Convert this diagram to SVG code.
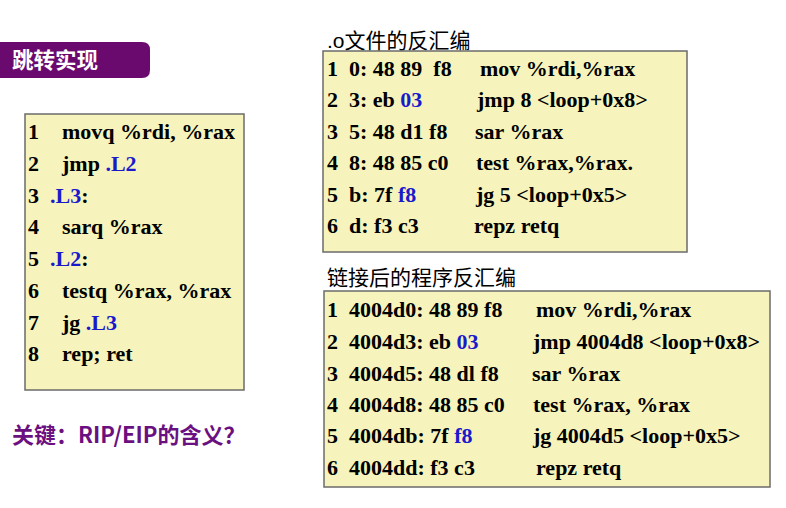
<svg xmlns="http://www.w3.org/2000/svg" width="786" height="508" viewBox="0 0 786 508">
<style>
.box{fill:#F6F4BC;stroke:#6b6b6b;stroke-width:1.5}
.c{font-family:"Liberation Serif","Times New Roman",serif;font-weight:bold;font-size:22px;fill:#000}
.b{fill:#1a1acc}
.h{font-family:"Liberation Sans","Noto Sans CJK SC",sans-serif;font-size:21px;fill:#000}
</style>
<rect width="786" height="508" fill="#fff"/>
<g id="title">
<path d="M0 42 H142 Q150 42 150 50 V70 Q150 78 142 78 H0 Z" fill="#6B0A6E"/>
<text x="12" y="68" font-family="'Noto Sans CJK SC',sans-serif" font-weight="bold" font-size="21.5" fill="#fff">跳转实现</text>
</g>
<g id="asm-source">
<rect class="box" x="25" y="114" width="219" height="276"/>
<text class="c" x="28" y="139">1</text><text class="c" x="62" y="139">movq %rdi, %rax</text>
<text class="c" x="28" y="171">2</text><text class="c" x="62" y="171">jmp <tspan class="b">.L2</tspan></text>
<text class="c" x="28" y="203">3</text><text class="c" x="50" y="203"><tspan class="b">.L3</tspan>:</text>
<text class="c" x="28" y="234">4</text><text class="c" x="62" y="234">sarq %rax</text>
<text class="c" x="28" y="266">5</text><text class="c" x="50" y="266"><tspan class="b">.L2</tspan>:</text>
<text class="c" x="28" y="298">6</text><text class="c" x="62" y="298">testq %rax, %rax</text>
<text class="c" x="28" y="330">7</text><text class="c" x="62" y="330">jg <tspan class="b">.L3</tspan></text>
<text class="c" x="28" y="361">8</text><text class="c" x="62" y="361">rep; ret</text>
</g>
<g id="question">
<text x="12" y="443" font-family="'Noto Sans CJK SC',sans-serif" font-weight="bold" font-size="22" fill="#6B1080">关键：RIP/EIP的含义？</text>
</g>
<g id="obj-disasm">
<text class="h" x="327" y="48">.o文件的反汇编</text>
<rect class="box" x="323" y="51" width="364" height="201"/>
<text class="c" x="327" y="76">1</text><text class="c" x="349" y="76" xml:space="preserve">0: 48 89  f8</text><text class="c" x="480" y="76">mov %rdi,%rax</text>
<text class="c" x="327" y="107">2</text><text class="c" x="349" y="107">3: eb <tspan class="b">03</tspan></text><text class="c" x="477" y="107">jmp 8 &lt;loop+0x8&gt;</text>
<text class="c" x="327" y="139">3</text><text class="c" x="349" y="139">5: 48 d1 f8</text><text class="c" x="475" y="139">sar %rax</text>
<text class="c" x="327" y="170">4</text><text class="c" x="349" y="170">8: 48 85 c0</text><text class="c" x="476" y="170">test %rax,%rax.</text>
<text class="c" x="327" y="202">5</text><text class="c" x="349" y="202">b: 7f <tspan class="b">f8</tspan></text><text class="c" x="476" y="202">jg 5 &lt;loop+0x5&gt;</text>
<text class="c" x="327" y="233">6</text><text class="c" x="349" y="233">d: f3 c3</text><text class="c" x="474" y="233">repz retq</text>
</g>
<g id="linked-disasm">
<text class="h" x="327" y="285">链接后的程序反汇编</text>
<rect class="box" x="324" y="291" width="446" height="196"/>
<text class="c" x="327" y="317">1</text><text class="c" x="349" y="317">4004d0: 48 89 f8</text><text class="c" x="536" y="317">mov %rdi,%rax</text>
<text class="c" x="327" y="349">2</text><text class="c" x="349" y="349">4004d3: eb <tspan class="b">03</tspan></text><text class="c" x="533" y="349">jmp 4004d8 &lt;loop+0x8&gt;</text>
<text class="c" x="327" y="381">3</text><text class="c" x="349" y="381">4004d5: 48 dl f8</text><text class="c" x="532" y="381">sar %rax</text>
<text class="c" x="327" y="412">4</text><text class="c" x="349" y="412">4004d8: 48 85 c0</text><text class="c" x="533" y="412">test %rax, %rax</text>
<text class="c" x="327" y="443">5</text><text class="c" x="349" y="443">4004db: 7f <tspan class="b">f8</tspan></text><text class="c" x="533" y="443">jg 4004d5 &lt;loop+0x5&gt;</text>
<text class="c" x="327" y="475">6</text><text class="c" x="349" y="475">4004dd: f3 c3</text><text class="c" x="536" y="475">repz retq</text>
</g>
</svg>
